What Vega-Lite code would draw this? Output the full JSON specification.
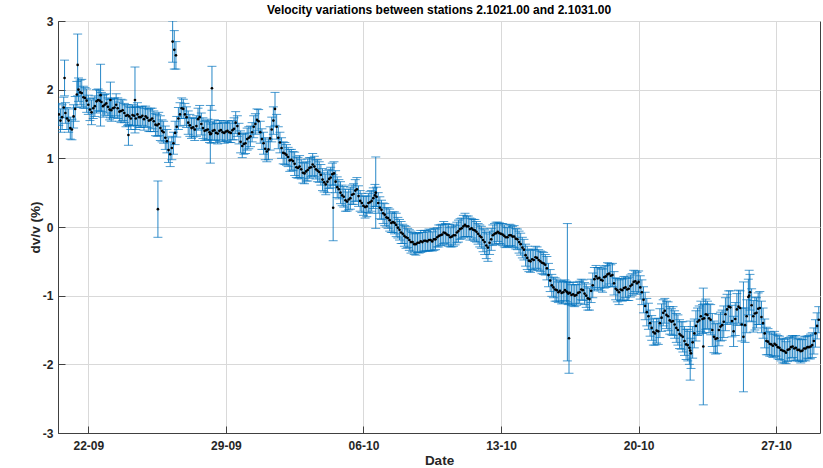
{
  "$schema": "https://vega.github.io/schema/vega-lite/v6.json",
  "width": 762,
  "height": 412,
  "autosize": {"type": "none"},
  "padding": {"left": 58, "top": 21, "right": 3, "bottom": 35},
  "background": "white",
  "title": {
    "text": "Velocity variations between stations 2.1021.00 and 2.1031.00",
    "font": "Liberation Sans",
    "fontSize": 12,
    "fontWeight": "bold",
    "color": "#000000",
    "anchor": "middle",
    "offset": -2
  },
  "config": {
    "view": {"stroke": "#404040", "strokeWidth": 1},
    "font": "Liberation Sans",
    "axis": {
      "domainColor": "#404040",
      "domainWidth": 1,
      "tickColor": "#404040",
      "tickWidth": 1,
      "tickSize": -7,
      "gridColor": "#d9d9d9",
      "gridWidth": 1,
      "labelFont": "Liberation Sans",
      "labelFontSize": 12,
      "labelFontWeight": "bold",
      "labelColor": "#262626",
      "titleFont": "Liberation Sans",
      "titleFontSize": 13.5,
      "titleFontWeight": "bold",
      "titleColor": "#262626"
    }
  },
  "data": {
    "values": [
      {"t": "2019-09-20T12:00", "v": 1.64, "e": 0.16},
      {"t": "2019-09-20T14:00", "v": 1.55, "e": 0.17},
      {"t": "2019-09-20T16:00", "v": 1.60, "e": 0.18},
      {"t": "2019-09-20T18:00", "v": 1.74, "e": 0.15},
      {"t": "2019-09-20T19:00", "v": 2.17, "e": 0.26},
      {"t": "2019-09-20T20:00", "v": 1.66, "e": 0.15},
      {"t": "2019-09-20T22:00", "v": 1.58, "e": 0.16},
      {"t": "2019-09-21T00:00", "v": 1.55, "e": 0.17},
      {"t": "2019-09-21T02:00", "v": 1.44, "e": 0.16},
      {"t": "2019-09-21T04:00", "v": 1.42, "e": 0.15},
      {"t": "2019-09-21T06:00", "v": 1.61, "e": 0.17},
      {"t": "2019-09-21T08:00", "v": 1.72, "e": 0.18},
      {"t": "2019-09-21T10:00", "v": 1.93, "e": 0.19},
      {"t": "2019-09-21T11:00", "v": 2.36, "e": 0.45},
      {"t": "2019-09-21T12:00", "v": 2.00, "e": 0.17},
      {"t": "2019-09-21T14:00", "v": 1.96, "e": 0.18},
      {"t": "2019-09-21T16:00", "v": 1.95, "e": 0.20},
      {"t": "2019-09-21T18:00", "v": 1.89, "e": 0.16},
      {"t": "2019-09-21T20:00", "v": 1.88, "e": 0.15},
      {"t": "2019-09-21T22:00", "v": 1.84, "e": 0.17},
      {"t": "2019-09-22T00:00", "v": 1.78, "e": 0.14},
      {"t": "2019-09-22T02:00", "v": 1.71, "e": 0.16},
      {"t": "2019-09-22T04:00", "v": 1.67, "e": 0.18},
      {"t": "2019-09-22T06:00", "v": 1.73, "e": 0.15},
      {"t": "2019-09-22T08:00", "v": 1.76, "e": 0.15},
      {"t": "2019-09-22T10:00", "v": 1.83, "e": 0.17},
      {"t": "2019-09-22T12:00", "v": 1.85, "e": 0.16},
      {"t": "2019-09-22T14:00", "v": 1.84, "e": 0.15},
      {"t": "2019-09-22T15:00", "v": 1.92, "e": 0.45},
      {"t": "2019-09-22T16:00", "v": 1.82, "e": 0.14},
      {"t": "2019-09-22T18:00", "v": 1.76, "e": 0.16},
      {"t": "2019-09-22T20:00", "v": 1.78, "e": 0.15},
      {"t": "2019-09-22T22:00", "v": 1.80, "e": 0.14},
      {"t": "2019-09-23T00:00", "v": 1.75, "e": 0.13},
      {"t": "2019-09-23T02:00", "v": 1.71, "e": 0.15},
      {"t": "2019-09-23T03:00", "v": 1.85, "e": 0.26},
      {"t": "2019-09-23T04:00", "v": 1.70, "e": 0.16},
      {"t": "2019-09-23T06:00", "v": 1.73, "e": 0.14},
      {"t": "2019-09-23T08:00", "v": 1.74, "e": 0.14},
      {"t": "2019-09-23T10:00", "v": 1.78, "e": 0.16},
      {"t": "2019-09-23T12:00", "v": 1.73, "e": 0.15},
      {"t": "2019-09-23T14:00", "v": 1.68, "e": 0.14},
      {"t": "2019-09-23T16:00", "v": 1.69, "e": 0.17},
      {"t": "2019-09-23T18:00", "v": 1.70, "e": 0.15},
      {"t": "2019-09-23T20:00", "v": 1.66, "e": 0.14},
      {"t": "2019-09-23T22:00", "v": 1.62, "e": 0.16},
      {"t": "2019-09-24T00:00", "v": 1.63, "e": 0.15},
      {"t": "2019-09-24T01:00", "v": 1.34, "e": 0.15},
      {"t": "2019-09-24T02:00", "v": 1.61, "e": 0.14},
      {"t": "2019-09-24T04:00", "v": 1.58, "e": 0.16},
      {"t": "2019-09-24T06:00", "v": 1.63, "e": 0.15},
      {"t": "2019-09-24T08:00", "v": 1.62, "e": 0.14},
      {"t": "2019-09-24T09:00", "v": 1.85, "e": 0.48},
      {"t": "2019-09-24T10:00", "v": 1.58, "e": 0.16},
      {"t": "2019-09-24T12:00", "v": 1.64, "e": 0.17},
      {"t": "2019-09-24T14:00", "v": 1.60, "e": 0.15},
      {"t": "2019-09-24T16:00", "v": 1.60, "e": 0.15},
      {"t": "2019-09-24T18:00", "v": 1.62, "e": 0.14},
      {"t": "2019-09-24T20:00", "v": 1.57, "e": 0.16},
      {"t": "2019-09-24T22:00", "v": 1.61, "e": 0.15},
      {"t": "2019-09-25T00:00", "v": 1.59, "e": 0.14},
      {"t": "2019-09-25T02:00", "v": 1.55, "e": 0.16},
      {"t": "2019-09-25T04:00", "v": 1.56, "e": 0.17},
      {"t": "2019-09-25T06:00", "v": 1.58, "e": 0.15},
      {"t": "2019-09-25T08:00", "v": 1.54, "e": 0.15},
      {"t": "2019-09-25T10:00", "v": 1.49, "e": 0.16},
      {"t": "2019-09-25T12:00", "v": 1.48, "e": 0.16},
      {"t": "2019-09-25T13:00", "v": 0.26, "e": 0.41},
      {"t": "2019-09-25T14:00", "v": 1.50, "e": 0.17},
      {"t": "2019-09-25T16:00", "v": 1.44, "e": 0.18},
      {"t": "2019-09-25T18:00", "v": 1.40, "e": 0.16},
      {"t": "2019-09-25T20:00", "v": 1.38, "e": 0.16},
      {"t": "2019-09-25T22:00", "v": 1.30, "e": 0.17},
      {"t": "2019-09-26T00:00", "v": 1.25, "e": 0.17},
      {"t": "2019-09-26T02:00", "v": 1.12, "e": 0.18},
      {"t": "2019-09-26T04:00", "v": 1.06, "e": 0.18},
      {"t": "2019-09-26T06:00", "v": 1.15, "e": 0.17},
      {"t": "2019-09-26T07:00", "v": 2.70, "e": 0.30},
      {"t": "2019-09-26T08:00", "v": 1.22, "e": 0.16},
      {"t": "2019-09-26T09:00", "v": 2.58, "e": 0.28},
      {"t": "2019-09-26T10:00", "v": 1.37, "e": 0.17},
      {"t": "2019-09-26T11:00", "v": 2.50, "e": 0.20},
      {"t": "2019-09-26T12:00", "v": 1.46, "e": 0.15},
      {"t": "2019-09-26T14:00", "v": 1.58, "e": 0.16},
      {"t": "2019-09-26T16:00", "v": 1.64, "e": 0.17},
      {"t": "2019-09-26T18:00", "v": 1.73, "e": 0.15},
      {"t": "2019-09-26T20:00", "v": 1.72, "e": 0.14},
      {"t": "2019-09-26T22:00", "v": 1.64, "e": 0.16},
      {"t": "2019-09-27T00:00", "v": 1.60, "e": 0.15},
      {"t": "2019-09-27T02:00", "v": 1.52, "e": 0.17},
      {"t": "2019-09-27T04:00", "v": 1.48, "e": 0.16},
      {"t": "2019-09-27T06:00", "v": 1.44, "e": 0.15},
      {"t": "2019-09-27T08:00", "v": 1.45, "e": 0.14},
      {"t": "2019-09-27T10:00", "v": 1.42, "e": 0.16},
      {"t": "2019-09-27T12:00", "v": 1.47, "e": 0.15},
      {"t": "2019-09-27T14:00", "v": 1.57, "e": 0.16},
      {"t": "2019-09-27T16:00", "v": 1.60, "e": 0.17},
      {"t": "2019-09-27T18:00", "v": 1.50, "e": 0.16},
      {"t": "2019-09-27T20:00", "v": 1.44, "e": 0.15},
      {"t": "2019-09-27T22:00", "v": 1.40, "e": 0.14},
      {"t": "2019-09-28T00:00", "v": 1.41, "e": 0.14},
      {"t": "2019-09-28T02:00", "v": 1.42, "e": 0.15},
      {"t": "2019-09-28T04:00", "v": 1.38, "e": 0.15},
      {"t": "2019-09-28T05:00", "v": 1.35, "e": 0.42},
      {"t": "2019-09-28T06:00", "v": 1.36, "e": 0.14},
      {"t": "2019-09-28T07:00", "v": 2.02, "e": 0.32},
      {"t": "2019-09-28T08:00", "v": 1.40, "e": 0.13},
      {"t": "2019-09-28T10:00", "v": 1.41, "e": 0.15},
      {"t": "2019-09-28T12:00", "v": 1.37, "e": 0.14},
      {"t": "2019-09-28T14:00", "v": 1.36, "e": 0.15},
      {"t": "2019-09-28T16:00", "v": 1.40, "e": 0.15},
      {"t": "2019-09-28T18:00", "v": 1.41, "e": 0.14},
      {"t": "2019-09-28T20:00", "v": 1.38, "e": 0.13},
      {"t": "2019-09-28T22:00", "v": 1.37, "e": 0.15},
      {"t": "2019-09-29T00:00", "v": 1.39, "e": 0.14},
      {"t": "2019-09-29T02:00", "v": 1.40, "e": 0.15},
      {"t": "2019-09-29T04:00", "v": 1.38, "e": 0.15},
      {"t": "2019-09-29T06:00", "v": 1.37, "e": 0.14},
      {"t": "2019-09-29T08:00", "v": 1.41, "e": 0.14},
      {"t": "2019-09-29T10:00", "v": 1.43, "e": 0.16},
      {"t": "2019-09-29T12:00", "v": 1.52, "e": 0.16},
      {"t": "2019-09-29T14:00", "v": 1.47, "e": 0.15},
      {"t": "2019-09-29T16:00", "v": 1.36, "e": 0.15},
      {"t": "2019-09-29T18:00", "v": 1.24, "e": 0.16},
      {"t": "2019-09-29T20:00", "v": 1.18, "e": 0.17},
      {"t": "2019-09-29T22:00", "v": 1.21, "e": 0.15},
      {"t": "2019-09-30T00:00", "v": 1.22, "e": 0.15},
      {"t": "2019-09-30T02:00", "v": 1.28, "e": 0.16},
      {"t": "2019-09-30T04:00", "v": 1.30, "e": 0.16},
      {"t": "2019-09-30T06:00", "v": 1.32, "e": 0.15},
      {"t": "2019-09-30T08:00", "v": 1.38, "e": 0.14},
      {"t": "2019-09-30T10:00", "v": 1.46, "e": 0.16},
      {"t": "2019-09-30T12:00", "v": 1.50, "e": 0.15},
      {"t": "2019-09-30T14:00", "v": 1.56, "e": 0.16},
      {"t": "2019-09-30T16:00", "v": 1.54, "e": 0.17},
      {"t": "2019-09-30T18:00", "v": 1.38, "e": 0.16},
      {"t": "2019-09-30T20:00", "v": 1.28, "e": 0.15},
      {"t": "2019-09-30T22:00", "v": 1.22, "e": 0.16},
      {"t": "2019-10-01T00:00", "v": 1.14, "e": 0.16},
      {"t": "2019-10-01T02:00", "v": 1.10, "e": 0.15},
      {"t": "2019-10-01T04:00", "v": 1.13, "e": 0.15},
      {"t": "2019-10-01T06:00", "v": 1.29, "e": 0.17},
      {"t": "2019-10-01T08:00", "v": 1.42, "e": 0.18},
      {"t": "2019-10-01T10:00", "v": 1.55, "e": 0.20},
      {"t": "2019-10-01T12:00", "v": 1.72, "e": 0.24},
      {"t": "2019-10-01T14:00", "v": 1.46, "e": 0.18},
      {"t": "2019-10-01T16:00", "v": 1.30, "e": 0.16},
      {"t": "2019-10-01T18:00", "v": 1.23, "e": 0.15},
      {"t": "2019-10-01T20:00", "v": 1.15, "e": 0.15},
      {"t": "2019-10-01T22:00", "v": 1.08, "e": 0.16},
      {"t": "2019-10-02T00:00", "v": 1.07, "e": 0.16},
      {"t": "2019-10-02T02:00", "v": 1.05, "e": 0.15},
      {"t": "2019-10-02T04:00", "v": 1.02, "e": 0.14},
      {"t": "2019-10-02T06:00", "v": 0.97, "e": 0.16},
      {"t": "2019-10-02T08:00", "v": 0.98, "e": 0.15},
      {"t": "2019-10-02T10:00", "v": 0.96, "e": 0.14},
      {"t": "2019-10-02T12:00", "v": 0.92, "e": 0.17},
      {"t": "2019-10-02T14:00", "v": 0.87, "e": 0.15},
      {"t": "2019-10-02T16:00", "v": 0.86, "e": 0.15},
      {"t": "2019-10-02T18:00", "v": 0.88, "e": 0.16},
      {"t": "2019-10-02T20:00", "v": 0.84, "e": 0.14},
      {"t": "2019-10-02T22:00", "v": 0.79, "e": 0.15},
      {"t": "2019-10-03T00:00", "v": 0.78, "e": 0.15},
      {"t": "2019-10-03T02:00", "v": 0.81, "e": 0.14},
      {"t": "2019-10-03T04:00", "v": 0.83, "e": 0.16},
      {"t": "2019-10-03T06:00", "v": 0.86, "e": 0.15},
      {"t": "2019-10-03T08:00", "v": 0.87, "e": 0.14},
      {"t": "2019-10-03T10:00", "v": 0.91, "e": 0.16},
      {"t": "2019-10-03T12:00", "v": 0.88, "e": 0.15},
      {"t": "2019-10-03T14:00", "v": 0.84, "e": 0.14},
      {"t": "2019-10-03T16:00", "v": 0.82, "e": 0.16},
      {"t": "2019-10-03T18:00", "v": 0.80, "e": 0.15},
      {"t": "2019-10-03T20:00", "v": 0.76, "e": 0.15},
      {"t": "2019-10-03T22:00", "v": 0.69, "e": 0.16},
      {"t": "2019-10-04T00:00", "v": 0.65, "e": 0.14},
      {"t": "2019-10-04T02:00", "v": 0.62, "e": 0.15},
      {"t": "2019-10-04T04:00", "v": 0.66, "e": 0.16},
      {"t": "2019-10-04T06:00", "v": 0.70, "e": 0.14},
      {"t": "2019-10-04T08:00", "v": 0.72, "e": 0.15},
      {"t": "2019-10-04T10:00", "v": 0.77, "e": 0.16},
      {"t": "2019-10-04T11:00", "v": 0.28, "e": 0.48},
      {"t": "2019-10-04T12:00", "v": 0.78, "e": 0.17},
      {"t": "2019-10-04T14:00", "v": 0.66, "e": 0.16},
      {"t": "2019-10-04T16:00", "v": 0.58, "e": 0.15},
      {"t": "2019-10-04T18:00", "v": 0.55, "e": 0.14},
      {"t": "2019-10-04T20:00", "v": 0.50, "e": 0.16},
      {"t": "2019-10-04T22:00", "v": 0.46, "e": 0.15},
      {"t": "2019-10-05T00:00", "v": 0.44, "e": 0.15},
      {"t": "2019-10-05T02:00", "v": 0.39, "e": 0.16},
      {"t": "2019-10-05T04:00", "v": 0.37, "e": 0.14},
      {"t": "2019-10-05T06:00", "v": 0.40, "e": 0.15},
      {"t": "2019-10-05T08:00", "v": 0.42, "e": 0.16},
      {"t": "2019-10-05T10:00", "v": 0.47, "e": 0.14},
      {"t": "2019-10-05T12:00", "v": 0.48, "e": 0.15},
      {"t": "2019-10-05T14:00", "v": 0.53, "e": 0.16},
      {"t": "2019-10-05T16:00", "v": 0.55, "e": 0.17},
      {"t": "2019-10-05T18:00", "v": 0.45, "e": 0.15},
      {"t": "2019-10-05T20:00", "v": 0.38, "e": 0.15},
      {"t": "2019-10-05T22:00", "v": 0.35, "e": 0.14},
      {"t": "2019-10-06T00:00", "v": 0.31, "e": 0.14},
      {"t": "2019-10-06T02:00", "v": 0.29, "e": 0.16},
      {"t": "2019-10-06T04:00", "v": 0.30, "e": 0.15},
      {"t": "2019-10-06T06:00", "v": 0.35, "e": 0.14},
      {"t": "2019-10-06T08:00", "v": 0.36, "e": 0.16},
      {"t": "2019-10-06T10:00", "v": 0.38, "e": 0.15},
      {"t": "2019-10-06T12:00", "v": 0.42, "e": 0.15},
      {"t": "2019-10-06T14:00", "v": 0.46, "e": 0.16},
      {"t": "2019-10-06T15:00", "v": 0.50, "e": 0.52},
      {"t": "2019-10-06T16:00", "v": 0.44, "e": 0.14},
      {"t": "2019-10-06T18:00", "v": 0.35, "e": 0.15},
      {"t": "2019-10-06T20:00", "v": 0.28, "e": 0.16},
      {"t": "2019-10-06T22:00", "v": 0.25, "e": 0.14},
      {"t": "2019-10-07T00:00", "v": 0.20, "e": 0.15},
      {"t": "2019-10-07T02:00", "v": 0.18, "e": 0.16},
      {"t": "2019-10-07T04:00", "v": 0.14, "e": 0.14},
      {"t": "2019-10-07T06:00", "v": 0.13, "e": 0.15},
      {"t": "2019-10-07T08:00", "v": 0.10, "e": 0.16},
      {"t": "2019-10-07T10:00", "v": 0.06, "e": 0.14},
      {"t": "2019-10-07T12:00", "v": 0.07, "e": 0.15},
      {"t": "2019-10-07T14:00", "v": 0.06, "e": 0.16},
      {"t": "2019-10-07T16:00", "v": 0.03, "e": 0.17},
      {"t": "2019-10-07T18:00", "v": -0.01, "e": 0.15},
      {"t": "2019-10-07T20:00", "v": -0.04, "e": 0.15},
      {"t": "2019-10-07T22:00", "v": -0.08, "e": 0.16},
      {"t": "2019-10-08T00:00", "v": -0.10, "e": 0.14},
      {"t": "2019-10-08T02:00", "v": -0.13, "e": 0.15},
      {"t": "2019-10-08T04:00", "v": -0.15, "e": 0.16},
      {"t": "2019-10-08T06:00", "v": -0.16, "e": 0.14},
      {"t": "2019-10-08T08:00", "v": -0.19, "e": 0.15},
      {"t": "2019-10-08T10:00", "v": -0.22, "e": 0.16},
      {"t": "2019-10-08T12:00", "v": -0.22, "e": 0.14},
      {"t": "2019-10-08T14:00", "v": -0.25, "e": 0.15},
      {"t": "2019-10-08T16:00", "v": -0.25, "e": 0.16},
      {"t": "2019-10-08T18:00", "v": -0.23, "e": 0.14},
      {"t": "2019-10-08T20:00", "v": -0.23, "e": 0.15},
      {"t": "2019-10-08T22:00", "v": -0.21, "e": 0.16},
      {"t": "2019-10-09T00:00", "v": -0.22, "e": 0.14},
      {"t": "2019-10-09T02:00", "v": -0.20, "e": 0.15},
      {"t": "2019-10-09T04:00", "v": -0.20, "e": 0.15},
      {"t": "2019-10-09T06:00", "v": -0.21, "e": 0.14},
      {"t": "2019-10-09T08:00", "v": -0.19, "e": 0.16},
      {"t": "2019-10-09T10:00", "v": -0.19, "e": 0.15},
      {"t": "2019-10-09T12:00", "v": -0.21, "e": 0.14},
      {"t": "2019-10-09T14:00", "v": -0.18, "e": 0.16},
      {"t": "2019-10-09T16:00", "v": -0.18, "e": 0.15},
      {"t": "2019-10-09T18:00", "v": -0.15, "e": 0.14},
      {"t": "2019-10-09T20:00", "v": -0.13, "e": 0.16},
      {"t": "2019-10-09T22:00", "v": -0.12, "e": 0.15},
      {"t": "2019-10-10T00:00", "v": -0.11, "e": 0.15},
      {"t": "2019-10-10T02:00", "v": -0.08, "e": 0.16},
      {"t": "2019-10-10T04:00", "v": -0.09, "e": 0.14},
      {"t": "2019-10-10T06:00", "v": -0.11, "e": 0.15},
      {"t": "2019-10-10T08:00", "v": -0.12, "e": 0.16},
      {"t": "2019-10-10T10:00", "v": -0.15, "e": 0.14},
      {"t": "2019-10-10T12:00", "v": -0.14, "e": 0.15},
      {"t": "2019-10-10T14:00", "v": -0.12, "e": 0.16},
      {"t": "2019-10-10T16:00", "v": -0.12, "e": 0.14},
      {"t": "2019-10-10T18:00", "v": -0.08, "e": 0.15},
      {"t": "2019-10-10T20:00", "v": -0.06, "e": 0.16},
      {"t": "2019-10-10T22:00", "v": -0.03, "e": 0.15},
      {"t": "2019-10-11T00:00", "v": -0.02, "e": 0.15},
      {"t": "2019-10-11T02:00", "v": 0.01, "e": 0.16},
      {"t": "2019-10-11T04:00", "v": 0.03, "e": 0.17},
      {"t": "2019-10-11T06:00", "v": 0.01, "e": 0.15},
      {"t": "2019-10-11T08:00", "v": 0.01, "e": 0.15},
      {"t": "2019-10-11T10:00", "v": -0.03, "e": 0.16},
      {"t": "2019-10-11T12:00", "v": -0.02, "e": 0.14},
      {"t": "2019-10-11T14:00", "v": -0.04, "e": 0.15},
      {"t": "2019-10-11T16:00", "v": -0.05, "e": 0.16},
      {"t": "2019-10-11T18:00", "v": -0.07, "e": 0.15},
      {"t": "2019-10-11T20:00", "v": -0.10, "e": 0.15},
      {"t": "2019-10-11T22:00", "v": -0.13, "e": 0.16},
      {"t": "2019-10-12T00:00", "v": -0.15, "e": 0.16},
      {"t": "2019-10-12T02:00", "v": -0.19, "e": 0.17},
      {"t": "2019-10-12T04:00", "v": -0.22, "e": 0.18},
      {"t": "2019-10-12T06:00", "v": -0.27, "e": 0.19},
      {"t": "2019-10-12T08:00", "v": -0.30, "e": 0.20},
      {"t": "2019-10-12T10:00", "v": -0.23, "e": 0.17},
      {"t": "2019-10-12T12:00", "v": -0.18, "e": 0.16},
      {"t": "2019-10-12T14:00", "v": -0.12, "e": 0.15},
      {"t": "2019-10-12T16:00", "v": -0.10, "e": 0.15},
      {"t": "2019-10-12T18:00", "v": -0.09, "e": 0.16},
      {"t": "2019-10-12T20:00", "v": -0.07, "e": 0.14},
      {"t": "2019-10-12T22:00", "v": -0.09, "e": 0.15},
      {"t": "2019-10-13T00:00", "v": -0.10, "e": 0.15},
      {"t": "2019-10-13T02:00", "v": -0.11, "e": 0.16},
      {"t": "2019-10-13T04:00", "v": -0.13, "e": 0.16},
      {"t": "2019-10-13T06:00", "v": -0.15, "e": 0.15},
      {"t": "2019-10-13T08:00", "v": -0.15, "e": 0.14},
      {"t": "2019-10-13T10:00", "v": -0.12, "e": 0.16},
      {"t": "2019-10-13T12:00", "v": -0.12, "e": 0.15},
      {"t": "2019-10-13T14:00", "v": -0.14, "e": 0.15},
      {"t": "2019-10-13T16:00", "v": -0.14, "e": 0.16},
      {"t": "2019-10-13T18:00", "v": -0.17, "e": 0.15},
      {"t": "2019-10-13T20:00", "v": -0.18, "e": 0.15},
      {"t": "2019-10-13T22:00", "v": -0.22, "e": 0.16},
      {"t": "2019-10-14T00:00", "v": -0.25, "e": 0.16},
      {"t": "2019-10-14T02:00", "v": -0.30, "e": 0.15},
      {"t": "2019-10-14T04:00", "v": -0.33, "e": 0.15},
      {"t": "2019-10-14T06:00", "v": -0.41, "e": 0.16},
      {"t": "2019-10-14T08:00", "v": -0.45, "e": 0.17},
      {"t": "2019-10-14T10:00", "v": -0.49, "e": 0.16},
      {"t": "2019-10-14T12:00", "v": -0.50, "e": 0.16},
      {"t": "2019-10-14T14:00", "v": -0.47, "e": 0.15},
      {"t": "2019-10-14T16:00", "v": -0.48, "e": 0.15},
      {"t": "2019-10-14T18:00", "v": -0.44, "e": 0.16},
      {"t": "2019-10-14T20:00", "v": -0.45, "e": 0.16},
      {"t": "2019-10-14T22:00", "v": -0.48, "e": 0.15},
      {"t": "2019-10-15T00:00", "v": -0.50, "e": 0.15},
      {"t": "2019-10-15T02:00", "v": -0.52, "e": 0.16},
      {"t": "2019-10-15T04:00", "v": -0.53, "e": 0.16},
      {"t": "2019-10-15T06:00", "v": -0.55, "e": 0.15},
      {"t": "2019-10-15T08:00", "v": -0.60, "e": 0.17},
      {"t": "2019-10-15T10:00", "v": -0.70, "e": 0.17},
      {"t": "2019-10-15T12:00", "v": -0.78, "e": 0.16},
      {"t": "2019-10-15T14:00", "v": -0.85, "e": 0.16},
      {"t": "2019-10-15T16:00", "v": -0.88, "e": 0.15},
      {"t": "2019-10-15T18:00", "v": -0.91, "e": 0.17},
      {"t": "2019-10-15T20:00", "v": -0.92, "e": 0.16},
      {"t": "2019-10-15T22:00", "v": -0.95, "e": 0.15},
      {"t": "2019-10-16T00:00", "v": -0.93, "e": 0.15},
      {"t": "2019-10-16T02:00", "v": -0.96, "e": 0.16},
      {"t": "2019-10-16T04:00", "v": -0.95, "e": 0.16},
      {"t": "2019-10-16T06:00", "v": -0.92, "e": 0.15},
      {"t": "2019-10-16T08:00", "v": -0.94, "e": 0.15},
      {"t": "2019-10-16T09:00", "v": -0.95, "e": 1.00},
      {"t": "2019-10-16T10:00", "v": -0.97, "e": 0.16},
      {"t": "2019-10-16T11:00", "v": -1.62, "e": 0.51},
      {"t": "2019-10-16T12:00", "v": -0.96, "e": 0.16},
      {"t": "2019-10-16T14:00", "v": -0.99, "e": 0.15},
      {"t": "2019-10-16T16:00", "v": -0.98, "e": 0.17},
      {"t": "2019-10-16T18:00", "v": -1.00, "e": 0.16},
      {"t": "2019-10-16T20:00", "v": -0.99, "e": 0.15},
      {"t": "2019-10-16T22:00", "v": -0.96, "e": 0.16},
      {"t": "2019-10-17T00:00", "v": -0.95, "e": 0.16},
      {"t": "2019-10-17T02:00", "v": -0.91, "e": 0.15},
      {"t": "2019-10-17T04:00", "v": -0.92, "e": 0.15},
      {"t": "2019-10-17T06:00", "v": -0.97, "e": 0.16},
      {"t": "2019-10-17T08:00", "v": -1.00, "e": 0.17},
      {"t": "2019-10-17T10:00", "v": -1.04, "e": 0.17},
      {"t": "2019-10-17T12:00", "v": -1.05, "e": 0.16},
      {"t": "2019-10-17T14:00", "v": -0.93, "e": 0.17},
      {"t": "2019-10-17T16:00", "v": -0.85, "e": 0.18},
      {"t": "2019-10-17T18:00", "v": -0.76, "e": 0.17},
      {"t": "2019-10-17T20:00", "v": -0.72, "e": 0.16},
      {"t": "2019-10-17T22:00", "v": -0.75, "e": 0.16},
      {"t": "2019-10-18T00:00", "v": -0.74, "e": 0.15},
      {"t": "2019-10-18T02:00", "v": -0.77, "e": 0.16},
      {"t": "2019-10-18T04:00", "v": -0.78, "e": 0.17},
      {"t": "2019-10-18T06:00", "v": -0.73, "e": 0.16},
      {"t": "2019-10-18T08:00", "v": -0.72, "e": 0.16},
      {"t": "2019-10-18T10:00", "v": -0.69, "e": 0.17},
      {"t": "2019-10-18T12:00", "v": -0.68, "e": 0.15},
      {"t": "2019-10-18T14:00", "v": -0.71, "e": 0.16},
      {"t": "2019-10-18T16:00", "v": -0.70, "e": 0.17},
      {"t": "2019-10-18T18:00", "v": -0.82, "e": 0.17},
      {"t": "2019-10-18T20:00", "v": -0.90, "e": 0.16},
      {"t": "2019-10-18T22:00", "v": -0.92, "e": 0.17},
      {"t": "2019-10-19T00:00", "v": -0.95, "e": 0.18},
      {"t": "2019-10-19T02:00", "v": -0.91, "e": 0.16},
      {"t": "2019-10-19T04:00", "v": -0.92, "e": 0.16},
      {"t": "2019-10-19T06:00", "v": -0.89, "e": 0.17},
      {"t": "2019-10-19T08:00", "v": -0.88, "e": 0.15},
      {"t": "2019-10-19T10:00", "v": -0.91, "e": 0.16},
      {"t": "2019-10-19T12:00", "v": -0.90, "e": 0.17},
      {"t": "2019-10-19T14:00", "v": -0.86, "e": 0.16},
      {"t": "2019-10-19T16:00", "v": -0.84, "e": 0.16},
      {"t": "2019-10-19T18:00", "v": -0.80, "e": 0.17},
      {"t": "2019-10-19T20:00", "v": -0.79, "e": 0.15},
      {"t": "2019-10-19T22:00", "v": -0.82, "e": 0.16},
      {"t": "2019-10-20T00:00", "v": -0.80, "e": 0.16},
      {"t": "2019-10-20T02:00", "v": -0.88, "e": 0.17},
      {"t": "2019-10-20T04:00", "v": -0.95, "e": 0.18},
      {"t": "2019-10-20T06:00", "v": -1.06, "e": 0.19},
      {"t": "2019-10-20T08:00", "v": -1.15, "e": 0.20},
      {"t": "2019-10-20T10:00", "v": -1.24, "e": 0.20},
      {"t": "2019-10-20T12:00", "v": -1.30, "e": 0.19},
      {"t": "2019-10-20T14:00", "v": -1.40, "e": 0.19},
      {"t": "2019-10-20T16:00", "v": -1.47, "e": 0.18},
      {"t": "2019-10-20T18:00", "v": -1.53, "e": 0.19},
      {"t": "2019-10-20T20:00", "v": -1.55, "e": 0.17},
      {"t": "2019-10-20T22:00", "v": -1.51, "e": 0.18},
      {"t": "2019-10-21T00:00", "v": -1.52, "e": 0.19},
      {"t": "2019-10-21T02:00", "v": -1.40, "e": 0.21},
      {"t": "2019-10-21T04:00", "v": -1.32, "e": 0.20},
      {"t": "2019-10-21T06:00", "v": -1.25, "e": 0.19},
      {"t": "2019-10-21T08:00", "v": -1.22, "e": 0.18},
      {"t": "2019-10-21T10:00", "v": -1.28, "e": 0.20},
      {"t": "2019-10-21T12:00", "v": -1.30, "e": 0.21},
      {"t": "2019-10-21T14:00", "v": -1.36, "e": 0.20},
      {"t": "2019-10-21T16:00", "v": -1.38, "e": 0.19},
      {"t": "2019-10-21T18:00", "v": -1.37, "e": 0.21},
      {"t": "2019-10-21T20:00", "v": -1.42, "e": 0.20},
      {"t": "2019-10-21T22:00", "v": -1.47, "e": 0.21},
      {"t": "2019-10-22T00:00", "v": -1.50, "e": 0.22},
      {"t": "2019-10-22T02:00", "v": -1.56, "e": 0.21},
      {"t": "2019-10-22T04:00", "v": -1.58, "e": 0.20},
      {"t": "2019-10-22T06:00", "v": -1.60, "e": 0.22},
      {"t": "2019-10-22T08:00", "v": -1.66, "e": 0.21},
      {"t": "2019-10-22T10:00", "v": -1.71, "e": 0.22},
      {"t": "2019-10-22T12:00", "v": -1.72, "e": 0.23},
      {"t": "2019-10-22T14:00", "v": -1.76, "e": 0.24},
      {"t": "2019-10-22T15:00", "v": -1.80, "e": 0.43},
      {"t": "2019-10-22T16:00", "v": -1.84, "e": 0.22},
      {"t": "2019-10-22T18:00", "v": -1.68, "e": 0.23},
      {"t": "2019-10-22T20:00", "v": -1.55, "e": 0.21},
      {"t": "2019-10-22T22:00", "v": -1.44, "e": 0.22},
      {"t": "2019-10-23T00:00", "v": -1.38, "e": 0.20},
      {"t": "2019-10-23T02:00", "v": -1.36, "e": 0.21},
      {"t": "2019-10-23T04:00", "v": -1.30, "e": 0.22},
      {"t": "2019-10-23T06:00", "v": -1.34, "e": 0.21},
      {"t": "2019-10-23T07:00", "v": -1.74, "e": 0.85},
      {"t": "2019-10-23T08:00", "v": -1.33, "e": 0.21},
      {"t": "2019-10-23T10:00", "v": -1.27, "e": 0.22},
      {"t": "2019-10-23T12:00", "v": -1.28, "e": 0.20},
      {"t": "2019-10-23T14:00", "v": -1.33, "e": 0.21},
      {"t": "2019-10-23T16:00", "v": -1.35, "e": 0.22},
      {"t": "2019-10-23T18:00", "v": -1.50, "e": 0.24},
      {"t": "2019-10-23T20:00", "v": -1.60, "e": 0.23},
      {"t": "2019-10-23T22:00", "v": -1.63, "e": 0.22},
      {"t": "2019-10-24T00:00", "v": -1.62, "e": 0.22},
      {"t": "2019-10-24T02:00", "v": -1.50, "e": 0.23},
      {"t": "2019-10-24T04:00", "v": -1.45, "e": 0.21},
      {"t": "2019-10-24T06:00", "v": -1.43, "e": 0.22},
      {"t": "2019-10-24T08:00", "v": -1.38, "e": 0.23},
      {"t": "2019-10-24T10:00", "v": -1.27, "e": 0.24},
      {"t": "2019-10-24T12:00", "v": -1.20, "e": 0.22},
      {"t": "2019-10-24T14:00", "v": -1.16, "e": 0.23},
      {"t": "2019-10-24T16:00", "v": -1.17, "e": 0.24},
      {"t": "2019-10-24T18:00", "v": -1.37, "e": 0.23},
      {"t": "2019-10-24T20:00", "v": -1.52, "e": 0.22},
      {"t": "2019-10-24T22:00", "v": -1.34, "e": 0.24},
      {"t": "2019-10-25T00:00", "v": -1.20, "e": 0.23},
      {"t": "2019-10-25T02:00", "v": -1.16, "e": 0.24},
      {"t": "2019-10-25T04:00", "v": -1.18, "e": 0.25},
      {"t": "2019-10-25T06:00", "v": -1.42, "e": 0.24},
      {"t": "2019-10-25T08:00", "v": -1.60, "e": 0.80},
      {"t": "2019-10-25T10:00", "v": -1.43, "e": 0.25},
      {"t": "2019-10-25T12:00", "v": -1.30, "e": 0.24},
      {"t": "2019-10-25T14:00", "v": -1.02, "e": 0.26},
      {"t": "2019-10-25T15:00", "v": -1.00, "e": 0.37},
      {"t": "2019-10-25T16:00", "v": -0.95, "e": 0.26},
      {"t": "2019-10-25T18:00", "v": -1.14, "e": 0.24},
      {"t": "2019-10-25T20:00", "v": -1.30, "e": 0.23},
      {"t": "2019-10-25T22:00", "v": -1.26, "e": 0.24},
      {"t": "2019-10-26T00:00", "v": -1.25, "e": 0.22},
      {"t": "2019-10-26T02:00", "v": -1.19, "e": 0.23},
      {"t": "2019-10-26T04:00", "v": -1.18, "e": 0.24},
      {"t": "2019-10-26T06:00", "v": -1.31, "e": 0.23},
      {"t": "2019-10-26T08:00", "v": -1.40, "e": 0.22},
      {"t": "2019-10-26T10:00", "v": -1.55, "e": 0.21},
      {"t": "2019-10-26T12:00", "v": -1.66, "e": 0.20},
      {"t": "2019-10-26T14:00", "v": -1.67, "e": 0.19},
      {"t": "2019-10-26T16:00", "v": -1.70, "e": 0.18},
      {"t": "2019-10-26T18:00", "v": -1.71, "e": 0.17},
      {"t": "2019-10-26T20:00", "v": -1.73, "e": 0.17},
      {"t": "2019-10-26T22:00", "v": -1.70, "e": 0.18},
      {"t": "2019-10-27T00:00", "v": -1.72, "e": 0.16},
      {"t": "2019-10-27T02:00", "v": -1.75, "e": 0.17},
      {"t": "2019-10-27T04:00", "v": -1.76, "e": 0.17},
      {"t": "2019-10-27T06:00", "v": -1.79, "e": 0.16},
      {"t": "2019-10-27T08:00", "v": -1.80, "e": 0.18},
      {"t": "2019-10-27T10:00", "v": -1.81, "e": 0.17},
      {"t": "2019-10-27T12:00", "v": -1.83, "e": 0.16},
      {"t": "2019-10-27T14:00", "v": -1.79, "e": 0.17},
      {"t": "2019-10-27T16:00", "v": -1.78, "e": 0.17},
      {"t": "2019-10-27T18:00", "v": -1.75, "e": 0.16},
      {"t": "2019-10-27T20:00", "v": -1.74, "e": 0.16},
      {"t": "2019-10-27T22:00", "v": -1.77, "e": 0.17},
      {"t": "2019-10-28T00:00", "v": -1.76, "e": 0.18},
      {"t": "2019-10-28T02:00", "v": -1.79, "e": 0.16},
      {"t": "2019-10-28T04:00", "v": -1.79, "e": 0.17},
      {"t": "2019-10-28T06:00", "v": -1.81, "e": 0.17},
      {"t": "2019-10-28T08:00", "v": -1.80, "e": 0.16},
      {"t": "2019-10-28T10:00", "v": -1.77, "e": 0.17},
      {"t": "2019-10-28T12:00", "v": -1.77, "e": 0.18},
      {"t": "2019-10-28T14:00", "v": -1.75, "e": 0.16},
      {"t": "2019-10-28T16:00", "v": -1.75, "e": 0.17},
      {"t": "2019-10-28T18:00", "v": -1.74, "e": 0.18},
      {"t": "2019-10-28T20:00", "v": -1.72, "e": 0.18},
      {"t": "2019-10-28T22:00", "v": -1.66, "e": 0.19},
      {"t": "2019-10-29T00:00", "v": -1.55, "e": 0.20},
      {"t": "2019-10-29T02:00", "v": -1.44, "e": 0.19},
      {"t": "2019-10-29T04:00", "v": -1.35, "e": 0.19}
    ]
  },
  "layer": [
    {
      "mark": {
        "type": "errorbar",
        "color": "#0072BD",
        "thickness": 1,
        "ticks": {"size": 9, "color": "#0072BD", "opacity": 0.7},
        "rule": {"color": "#0072BD", "opacity": 0.85},
        "clip": true
      },
      "encoding": {
        "x": {
          "field": "t",
          "type": "temporal",
          "scale": {
            "domain": [
              {"year": 2019, "month": 9, "date": 20, "hours": 11},
              {"year": 2019, "month": 10, "date": 29, "hours": 5, "minutes": 30}
            ]
          },
          "axis": {
            "orient": "bottom",
            "title": "Date",
            "titlePadding": 2,
            "format": "%d-%m",
            "labelPadding": 14,
            "grid": true,
            "values": [
              {"year": 2019, "month": 9, "date": 22},
              {"year": 2019, "month": 9, "date": 29},
              {"year": 2019, "month": 10, "date": 6},
              {"year": 2019, "month": 10, "date": 13},
              {"year": 2019, "month": 10, "date": 20},
              {"year": 2019, "month": 10, "date": 27}
            ]
          }
        },
        "y": {
          "field": "v",
          "type": "quantitative",
          "scale": {"domain": [-3, 3], "nice": false},
          "axis": {
            "orient": "left",
            "title": "dv/v (%)",
            "titlePadding": 0,
            "labelPadding": 12,
            "labelExpr": "'' + datum.value",
            "grid": true,
            "values": [-3, -2, -1, 0, 1, 2, 3]
          }
        },
        "yError": {"field": "e"}
      }
    },
    {
      "mark": {"type": "point", "filled": true, "size": 7, "color": "#000000", "opacity": 1, "clip": true},
      "encoding": {
        "x": {"field": "t", "type": "temporal"},
        "y": {"field": "v", "type": "quantitative"}
      }
    }
  ]
}
